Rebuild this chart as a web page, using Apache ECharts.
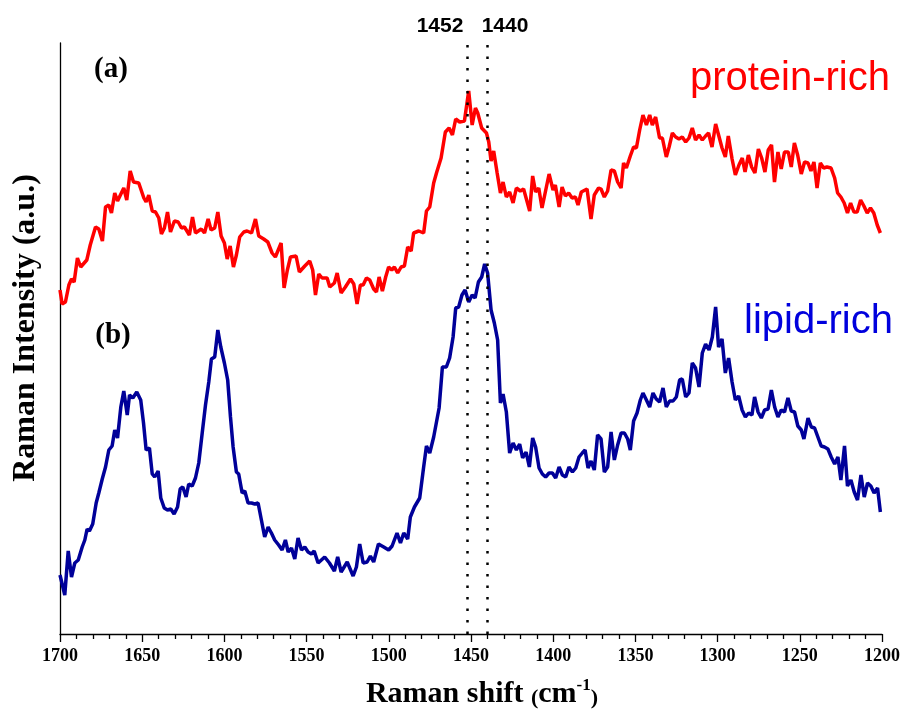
<!DOCTYPE html>
<html>
<head>
<meta charset="utf-8">
<script src="https://cdn.jsdelivr.net/npm/echarts@6/dist/echarts.min.js"></script>
<style>
html,body{margin:0;padding:0;background:#fff;overflow:hidden;}
#chart{width:902px;height:709px;}
</style>
</head>
<body>
<div id="chart"></div>
<script>
// Raman shift axis ticks (cm-1)
const shiftMin = 1200, shiftMax = 1700, shiftStep = 50;
// Marked bands
const bandShifts = [1452, 1440];
const bandLabels = ['1452', '1440'];
// (a) protein-rich spectrum
const proteinShift = [1700,1698.7,1696.7,1694.6,1693.0,1691.4,1689.4,1687.4,1683.7,1681.6,
1678.4,1676.4,1674.2,1672.3,1670.3,1668.7,1666.7,1665.0,1661.2,1659.4,
1657.3,1655.3,1652.1,1649.0,1647.6,1646.0,1643.9,1641.9,1639.9,1638.3,
1636.5,1634.6,1632.8,1630.4,1628.1,1626.1,1624.3,1621.3,1619.4,1617.6,
1614.1,1612.1,1609.9,1608.1,1605.9,1604.0,1602.0,1600.0,1598.3,1596.5,
1594.5,1592.7,1590.7,1588.2,1586.2,1583.5,1581.1,1579.1,1576.1,1573.6,
1571.0,1569.0,1565.5,1563.7,1561.7,1559.8,1556.4,1554.4,1551.1,1548.1,
1546.3,1544.6,1542.6,1540.6,1537.5,1535.9,1533.1,1531.4,1529.0,1526.4,
1523.3,1521.3,1519.3,1517.3,1515.6,1513.6,1511.6,1509.2,1507.5,1505.9,
1503.9,1501.9,1500.1,1498.2,1496.6,1494.6,1492.5,1490.5,1488.5,1486.4,
1484.9,1481.8,1478.8,1477.1,1475.1,1472.7,1471.0,1468.2,1465.6,1463.3,
1461.3,1459.3,1456.9,1454.0,1453.2,1451.4,1449.3,1447.3,1445.9,1443.5,
1440.6,1439.2,1437.8,1436.2,1434.1,1432.1,1430.5,1428.5,1426.5,1424.4,
1422.4,1420.0,1418.0,1414.3,1412.5,1410.7,1408.8,1406.8,1402.5,1400.1,
1398.7,1396.4,1394.6,1392.6,1390.6,1388.5,1386.5,1384.9,1382.9,1379.4,
1377.0,1375.0,1372.4,1370.9,1368.9,1366.9,1364.8,1362.8,1360.8,1358.7,
1357.2,1355.5,1353.1,1351.1,1349.4,1347.4,1345.4,1343.3,1341.3,1339.7,
1337.7,1335.3,1333.6,1331.2,1329.5,1327.5,1325.5,1323.5,1321.5,1319.4,
1317.4,1315.4,1313.4,1311.3,1309.3,1307.3,1305.5,1303.4,1301.2,1299.4,
1297.3,1295.3,1293.5,1291.2,1289.2,1287.0,1285.0,1283.3,1281.3,1279.3,
1277.3,1275.2,1273.2,1271.2,1269.2,1267.2,1265.4,1263.3,1261.3,1259.3,
1257.0,1255.2,1253.3,1251.3,1249.1,1247.1,1245.0,1243.2,1241.4,1239.5,
1237.5,1235.5,1233.5,1231.0,1228.8,1227.0,1225.0,1223.0,1221.0,1219.1,
1217.1,1215.1,1213.0,1211.0,1209.0,1207.0,1205.0,1202.9,1201];
const proteinIntensity = [344,330,332,349,355,352,376,367,374,389,
407,405,393,427,429,421,441,433,446,434,
463,452,451,436,432,439,423,422,416,400,
406,422,402,413,412,406,407,399,417,401,
405,401,415,404,406,422,398,391,375,388,
367,379,397,402,403,401,415,398,395,392,
381,377,391,346,364,377,378,362,368,373,
364,339,360,356,356,347,351,361,341,347,
355,350,330,349,349,356,354,345,342,357,
343,357,367,364,367,361,367,368,387,383,
401,403,401,423,427,451,461,476,502,506,
499,515,512,513,514,543,509,526,521,506,
501,492,473,483,461,441,452,437,442,431,
446,443,445,423,458,442,446,426,460,444,
449,427,447,438,441,436,437,429,442,445,
415,439,446,445,437,443,464,463,452,446,
471,466,478,487,486,504,519,509,519,509,
517,496,496,477,487,501,497,495,497,492,
496,506,494,499,494,498,501,487,510,499,
486,477,498,475,459,469,476,462,479,467,
461,485,476,462,484,489,452,482,465,482,
482,467,491,479,460,472,471,463,472,446,
471,466,467,466,456,441,437,431,421,431,
422,422,434,428,421,426,421,409,401];
// (b) lipid-rich spectrum
const lipidShift = [1700,1697.1,1695.0,1693.0,1691.0,1688.9,1686.5,1684.9,1683.5,1682.1,
1680.1,1678.0,1676.4,1674.3,1672.3,1670.3,1668.3,1666.7,1665.0,1663.0,
1661.2,1659.1,1657.7,1655.7,1653.3,1650.9,1649.2,1647.6,1645.6,1643.9,
1642.4,1640.3,1638.7,1636.6,1634.6,1632.6,1630.6,1628.5,1626.9,1625.3,
1623.3,1621.7,1619.6,1617.6,1615.6,1613.5,1611.5,1609.5,1607.9,1605.9,
1604.0,1602.2,1600.0,1598.0,1596.3,1594.7,1592.7,1591.3,1589.2,1587.6,
1585.6,1583.5,1581.5,1579.5,1577.5,1575.5,1573.4,1571.4,1569.4,1567.0,
1564.9,1562.9,1561.2,1559.2,1557.2,1555.2,1553.1,1551.1,1549.1,1547.1,
1545.4,1543.0,1541.0,1539.0,1536.1,1533.1,1531.1,1529.0,1525.3,1521.7,
1519.7,1517.7,1515.6,1513.2,1511.2,1509.2,1506.3,1503.1,1500.1,1498.0,
1495.0,1492.9,1490.9,1488.5,1486.9,1484.4,1481.2,1478.8,1477.1,1475.1,
1472.7,1469.4,1467.4,1465.0,1463.0,1460.9,1459.3,1457.5,1455.5,1453.6,
1451.4,1449.3,1447.5,1445.5,1443.5,1441.7,1439.9,1437.8,1435.8,1433.8,
1432.1,1430.5,1428.5,1426.5,1424.4,1422.4,1420.4,1418.6,1416.5,1414.5,
1412.5,1410.7,1408.6,1406.6,1404.6,1402.5,1400.5,1398.5,1396.4,1394.4,
1392.4,1390.4,1388.3,1386.3,1384.3,1382.3,1380.6,1378.8,1377.0,1375.0,
1373.0,1370.9,1368.9,1366.9,1364.8,1362.8,1360.8,1358.7,1356.7,1354.7,
1353.1,1351.1,1349.0,1347.0,1345.4,1343.3,1341.3,1339.3,1337.3,1335.3,
1333.2,1331.2,1329.2,1327.1,1325.1,1323.1,1321.5,1319.4,1317.4,1315.4,
1313.4,1311.3,1309.3,1307.3,1305.2,1303.2,1301.2,1299.4,1297.3,1295.3,
1293.3,1291.2,1289.2,1287.2,1285.1,1283.1,1281.1,1279.1,1277.5,1275.4,
1273.4,1271.4,1269.3,1267.3,1265.3,1263.3,1261.3,1259.3,1257.2,1255.2,
1253.2,1251.2,1249.1,1247.5,1245.0,1243.0,1241.0,1239.0,1237.0,1235.0,
1232.9,1230.9,1228.8,1226.8,1225.0,1222.8,1221.0,1218.9,1216.9,1214.9,
1212.8,1210.8,1208.8,1206.8,1204.8,1202.7,1201];
const lipidIntensity = [59,39,83,57,71,74,87,94,105,103,
110,131,141,155,167,184,188,204,196,227,
243,219,239,236,242,234,211,184,186,160,
157,163,136,126,124,125,120,127,145,147,
137,150,148,156,171,201,229,252,275,277,
304,287,271,254,217,187,162,160,141,143,
131,131,130,131,114,97,107,101,94,89,
84,94,82,86,75,96,84,87,82,80,
83,71,74,77,71,63,77,62,72,58,
67,90,71,72,78,72,90,87,84,88,
101,91,101,95,117,127,136,167,188,181,
197,226,267,267,276,297,326,327,339,344,
332,339,336,352,357,370,361,324,311,294,
231,240,222,181,191,184,190,176,182,167,
196,187,166,160,157,161,161,156,167,159,
157,167,162,166,177,181,184,166,173,164,
199,195,162,167,202,174,189,201,201,195,
184,213,221,234,241,234,227,241,235,232,
246,227,233,233,237,254,255,237,241,271,
266,247,281,290,284,297,327,287,295,261,
276,252,234,238,224,217,221,219,237,222,
216,224,225,244,227,217,224,222,236,223,
222,208,204,195,216,207,206,197,188,187,
185,177,170,177,154,188,148,154,142,134,
159,137,151,148,141,146,122];

const pair = (xs, ys) => xs.map((x, i) => [x, ys[i]]);
const SERIF = '"Liberation Serif","Times New Roman",serif';
const SANS = '"Liberation Sans",Arial,sans-serif';

const chart = echarts.init(document.getElementById('chart'), null, {renderer: 'canvas'});
chart.setOption({
  animation: false,
  backgroundColor: '#fff',
  grid: {left: 60, right: 20, top: 43, bottom: 75, containLabel: false, outerBoundsMode: 'none'},
  xAxis: {
    type: 'value', inverse: true, min: shiftMin, max: shiftMax, interval: shiftStep,
    axisLine: {show: true, onZero: false, lineStyle: {color: '#000', width: 1.3}},
    axisTick: {show: true, inside: false, length: 8, lineStyle: {color: '#000', width: 1.3}},
    minorTick: {show: true, splitNumber: 5, length: 5, lineStyle: {color: '#000', width: 1.3}},
    axisLabel: {color: '#000', fontFamily: SERIF, fontWeight: 'bold', fontSize: 18, margin: 13,
      formatter: v => String(v)},
    splitLine: {show: false}, minorSplitLine: {show: false}
  },
  yAxis: {
    type: 'value', min: 0, max: 591,
    axisLine: {show: true, lineStyle: {color: '#000', width: 1.3}},
    axisTick: {show: false}, axisLabel: {show: false}, splitLine: {show: false}
  },
  series: [
    {
      name: 'protein-rich', type: 'line', data: pair(proteinShift, proteinIntensity),
      showSymbol: false, symbol: 'none', lineStyle: {color: '#ff0000', width: 3.5}, itemStyle: {color: '#ff0000'},
      markLine: {
        silent: true, symbol: ['none', 'none'], label: {show: false},
        lineStyle: {color: '#000', width: 2.5, type: [2.5, 9], cap: 'butt'},
        data: bandShifts.map(v => ({xAxis: v}))
      }
    },
    {
      name: 'lipid-rich', type: 'line', data: pair(lipidShift, lipidIntensity),
      showSymbol: false, symbol: 'none', lineStyle: {color: '#000099', width: 3.5}, itemStyle: {color: '#000099'}
    }
  ],
  graphic: [
    {type: 'text', x: 26, y: 328, rotation: Math.PI / 2,
     style: {text: 'Raman Intensity (a.u.)', font: 'bold 32px ' + SERIF, fill: '#000', align: 'center', verticalAlign: 'middle'}},
    {type: 'text', x: 482, y: 693,
     style: {text: '{a|Raman shift }{p|(}{a|cm}{s|-1}{p|)}', align: 'center', verticalAlign: 'middle', fill: '#000',
       rich: {
         a: {font: 'bold 30px ' + SERIF, fill: '#000', lineHeight: 32, verticalAlign: 'bottom'},
         p: {font: 'bold 22px ' + SERIF, fill: '#000', lineHeight: 26, verticalAlign: 'bottom'},
         s: {font: 'bold 17px ' + SERIF, fill: '#000', lineHeight: 18, verticalAlign: 'top'}
       }}},
    {type: 'text', x: 111, y: 70, style: {text: '(a)', font: 'bold 29px ' + SERIF, fill: '#000', align: 'center', verticalAlign: 'middle'}},
    {type: 'text', x: 113, y: 336, style: {text: '(b)', font: 'bold 29px ' + SERIF, fill: '#000', align: 'center', verticalAlign: 'middle'}},
    {type: 'text', x: 890, y: 79, style: {text: 'protein-rich', font: '40px ' + SANS, fill: '#ff0000', align: 'right', verticalAlign: 'middle'}},
    {type: 'text', x: 893, y: 322, style: {text: 'lipid-rich', font: '40px ' + SANS, fill: '#0000dd', align: 'right', verticalAlign: 'middle'}},
    {type: 'text', x: 440, y: 26, style: {text: bandLabels[0], font: 'bold 21px ' + SANS, fill: '#000', align: 'center', verticalAlign: 'middle'}},
    {type: 'text', x: 505, y: 26, style: {text: bandLabels[1], font: 'bold 21px ' + SANS, fill: '#000', align: 'center', verticalAlign: 'middle'}}
  ]
});
</script>
</body>
</html>
